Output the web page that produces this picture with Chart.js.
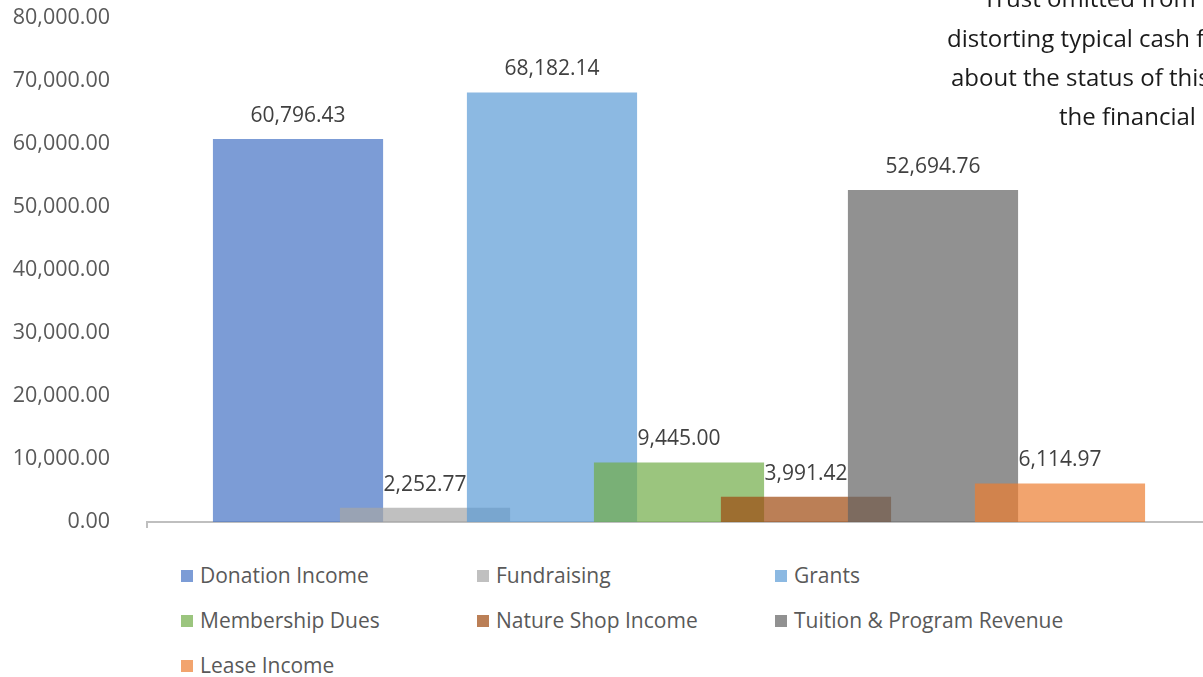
<!DOCTYPE html>
<html>
<head>
<meta charset="utf-8">
<script src="https://cdn.jsdelivr.net/npm/chart.js@4.4.0/dist/chart.umd.min.js"></script>
<style>
  html, body { margin: 0; padding: 0; background: #fff; }
  body { width: 1203px; height: 677px; overflow: hidden; position: relative; font-family: "Open Sans", sans-serif; }
  #wrap { position: absolute; left: 8px; top: 0; width: 1203px; height: 540px; }
  #note span { position: absolute; white-space: nowrap; font-size: 24px; color: #1a1a1a; }
  #legend { position: absolute; left: 0; top: 0; }
  .item { position: absolute; white-space: nowrap; font-size: 21px; color: #595959; }
  .item i { display: inline-block; width: 12px; height: 12px; margin-right: 7px; vertical-align: 1px; }
</style>
</head>
<body>
<div id="wrap"><canvas id="chart"></canvas></div>
<div id="note">
  <span style="left:983px; top:-19px;">Trust omitted from</span>
  <span style="left:947px; top:21px;">distorting typical cash flow</span>
  <span style="left:951px; top:60px;">about the status of this</span>
  <span style="left:1059px; top:99px;">the financial</span>
</div>
<div id="legend"></div>
<script>
// Data
const categories = ['Income'];
const seriesNames = ['Donation Income', 'Fundraising', 'Grants', 'Membership Dues',
  'Nature Shop Income', 'Tuition & Program Revenue', 'Lease Income'];
const seriesValues = [60796.43, 2252.77, 68182.14, 9445.00, 3991.42, 52694.76, 6114.97];
const seriesColors = ['#4472C4', '#A5A5A5', '#5B9BD5', '#70AD47', '#9E480E', '#636363', '#ED7D31'];
const yTicks = [0, 10000, 20000, 30000, 40000, 50000, 60000, 70000, 80000];

function fmt(v) {
  return v.toLocaleString('en-US', { minimumFractionDigits: 2, maximumFractionDigits: 2 });
}

function withAlpha(hex, a) {
  const n = parseInt(hex.slice(1), 16);
  return 'rgba(' + (n >> 16) + ',' + ((n >> 8) & 255) + ',' + (n & 255) + ',' + a + ')';
}

// Chart.js paints the first dataset on top; here later series overlap earlier ones,
// so skip the default pass and paint them in index order, then the value labels.
const paintInOrder = {
  id: 'paintInOrder',
  beforeDatasetDraw() { return false; },
  afterDatasetsDraw(chart) {
    const ctx = chart.ctx;
    chart.data.datasets.forEach((ds, i) => {
      chart.getDatasetMeta(i).controller.draw();
    });
    ctx.save();
    ctx.font = '21px "Open Sans"';
    ctx.fillStyle = '#404040';
    ctx.textAlign = 'center';
    ctx.textBaseline = 'middle';
    chart.data.datasets.forEach((ds, i) => {
      const bar = chart.getDatasetMeta(i).data[0];
      ctx.fillText(fmt(ds.data[0]), bar.x, bar.y - 23);
    });
    ctx.restore();
  }
};

new Chart(document.getElementById('chart'), {
  type: 'bar',
  data: {
    labels: categories,
    datasets: seriesNames.map((name, i) => ({
      label: name,
      data: [seriesValues[i]],
      backgroundColor: withAlpha(seriesColors[i], 0.7),
      borderWidth: 0,
      barPercentage: 1.34,
      categoryPercentage: 0.8355
    }))
  },
  options: {
    responsive: true,
    maintainAspectRatio: false,
    animation: false,
    layout: { padding: { top: 18, right: 0, bottom: 12, left: 0 } },
    plugins: {
      legend: { display: false },
      tooltip: { enabled: false }
    },
    scales: {
      x: {
        afterFit: (scale) => { scale.height = 6; },
        ticks: { display: false },
        grid: { drawOnChartArea: false, tickLength: 6, color: '#BFBFBF', lineWidth: 2 },
        border: { color: '#BFBFBF', width: 2 }
      },
      y: {
        min: 0,
        max: 80000,
        afterFit: (scale) => {
          scale.width = 139;
          scale.paddingTop = 0;
          scale.paddingBottom = 0;
        },
        afterBuildTicks: (scale) => { scale.ticks = yTicks.map(v => ({ value: v })); },
        ticks: {
          padding: 37,
          color: '#595959',
          font: { family: 'Open Sans', size: 21.5 },
          callback: (v) => fmt(v)
        },
        grid: { display: false, drawTicks: false },
        border: { display: false }
      }
    }
  },
  plugins: [paintInOrder]
});

// Legend in a 3 column grid
const legend = document.getElementById('legend');
seriesNames.forEach((name, i) => {
  const col = i % 3, row = Math.floor(i / 3);
  const el = document.createElement('div');
  el.className = 'item';
  el.style.left = [181, 477, 775][col] + 'px';
  el.style.top = (561 + row * 45) + 'px';
  el.innerHTML = '<i style="background:' + withAlpha(seriesColors[i], 0.7) + '"></i>' +
    name.replace('&', '&amp;');
  legend.appendChild(el);
});
</script>
</body>
</html>
